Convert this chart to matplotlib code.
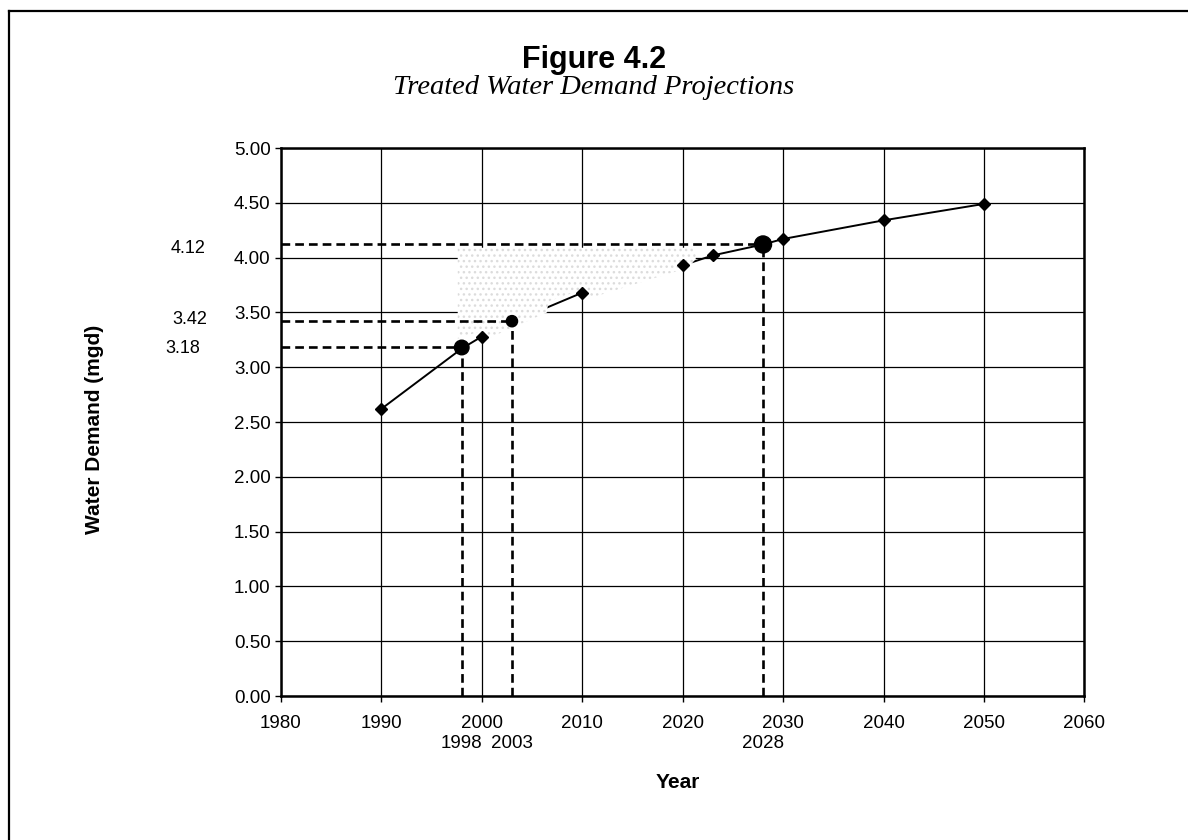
import numpy as np
import matplotlib
matplotlib.use('Agg')
import matplotlib.pyplot as plt
from matplotlib.lines import Line2D
from matplotlib.patches import Polygon

# projection series
years = [1990, 1998, 2000, 2003, 2010, 2020, 2023, 2028, 2030, 2040, 2050]
demand = [2.62, 3.17, 3.28, 3.41, 3.68, 3.93, 4.02, 4.12, 4.17, 4.34, 4.49]
# points drawn with the small diamond marker
node_years = [1990, 2000, 2010, 2020, 2023, 2030, 2040, 2050]
node_demand = [2.62, 3.28, 3.68, 3.93, 4.02, 4.17, 4.34, 4.49]
# highlighted read-off points
mark_years = [1998, 2003, 2028]
mark_demand = [3.18, 3.42, 4.12]
mark_labels = ['3.18', '3.42', '4.12']
year_labels = ['1998', '2003', '2028']

xticks = np.arange(1980, 2061, 10)
yticks = np.arange(0, 5.01, 0.5)

plt.rcParams['font.family'] = ['Liberation Sans', 'DejaVu Sans']

fig = plt.figure(figsize=(11.88, 8.4), dpi=100)
ax = fig.add_axes([0.2365, 0.1714, 0.6763, 0.6524])

ax.set_xlim(1980, 2060)
ax.set_ylim(0, 5)
ax.set_xticks(xticks)
ax.set_yticks(yticks)
ax.set_yticklabels(['%.2f' % v for v in yticks])
ax.tick_params(direction='out', length=4, width=1, labelsize=13.5)
ax.tick_params(axis='x', pad=9.5)
ax.tick_params(axis='y', pad=3.5)
ax.grid(True, color='black', lw=0.9)
ax.set_axisbelow(True)
for s in ax.spines.values():
    s.set_linewidth(1.8)

# main line
ax.plot(years, demand, color='black', lw=1.4, zorder=1.2)

# scan artefact: stippled, erased area over the middle of the line
erased = [(1997.6, 4.09), (2021.3, 4.09), (2021.3, 3.99), (2020.6, 3.91),
          (2010.4, 3.62), (2010.0, 3.71), (2006.6, 3.60), (2006.5, 3.50),
          (2003.3, 3.37), (2000.3, 3.25), (1999.9, 3.33), (1997.6, 3.26)]
ax.add_patch(Polygon(erased, closed=True, facecolor='white', edgecolor='#dcdcdc',
                     hatch='...', lw=0, zorder=1.5))

ax.plot(node_years, node_demand, ls='none', marker='D', ms=6, color='black', zorder=3)

# dashed read-off lines
for yr, v in zip(mark_years, mark_demand):
    ax.plot([1980, yr], [v, v], color='black', lw=1.9, dashes=(3.3, 1.9), zorder=2.5)
    ax.plot([yr, yr], [0, v], color='black', lw=1.9, dashes=(3.3, 1.9), zorder=2.5)
ax.scatter(mark_years, mark_demand, s=[110, 65, 150], color='black', zorder=3)

# read-off labels
lab_dx = [-71, -66, -67]
lab_dy = [-0.5, 1.5, -3]
for v, t, dx, dy in zip(mark_demand, mark_labels, lab_dx, lab_dy):
    ax.annotate(t, xy=(0, v), xycoords=('axes fraction', 'data'), xytext=(dx, dy),
                textcoords='offset points', ha='center', va='center', fontsize=13)
for yr, t in zip(mark_years, year_labels):
    ax.annotate(t, xy=(yr, 0), xycoords=('data', 'axes fraction'), xytext=(0, -34.5),
                textcoords='offset points', ha='center', va='center', fontsize=13.5)

fig.text(0.5, 0.919, 'Figure 4.2', ha='center', va='baseline', fontsize=22, fontweight='bold')
fig.text(0.5, 0.8875, 'Treated Water Demand Projections', ha='center', va='baseline',
         fontsize=20.5, style='italic', family=['Liberation Serif', 'DejaVu Serif'])
fig.text(678 / 1188, 1 - 782 / 840, 'Year', ha='center', va='center', fontsize=15, fontweight='bold')
fig.text(95 / 1188, 1 - 429 / 840, 'Water Demand (mgd)', ha='center', va='center',
         rotation=90, fontsize=15, fontweight='bold')

# page frame (only top and left edges are inside the scan)
fig.add_artist(Line2D([9 / 1188, 9 / 1188], [0, 1 - 11 / 840], transform=fig.transFigure,
                      color='black', lw=1.6))
fig.add_artist(Line2D([9 / 1188, 1], [1 - 11 / 840, 1 - 11 / 840], transform=fig.transFigure,
                      color='black', lw=1.6))

fig.savefig('out.png', dpi=100)
